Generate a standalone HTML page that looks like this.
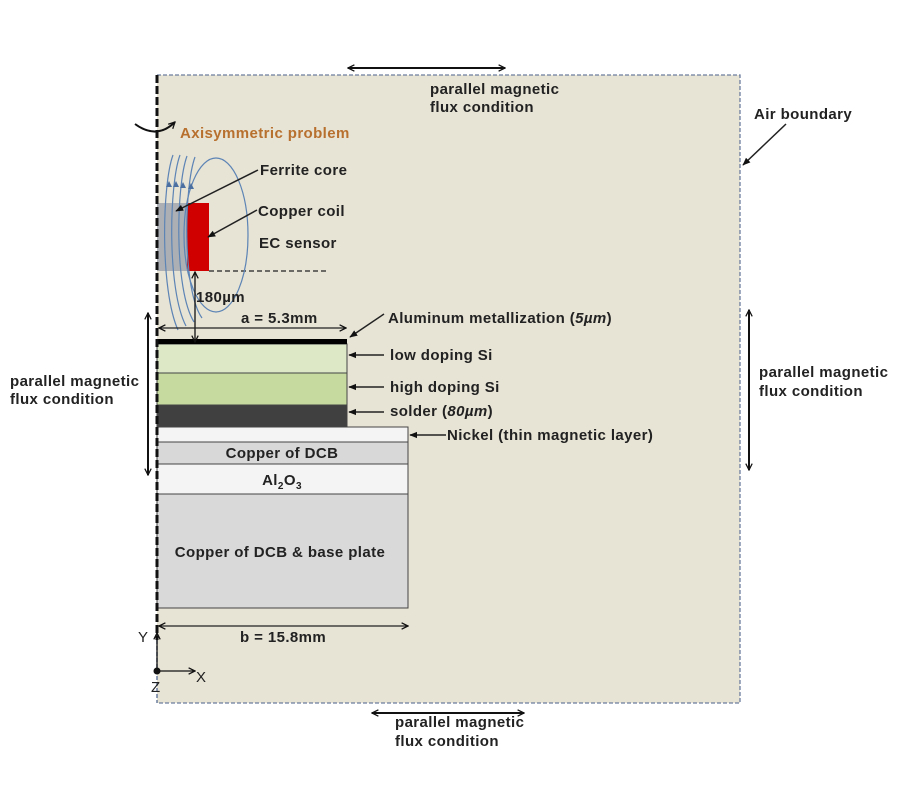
<!DOCTYPE html>
<html><head><meta charset="utf-8"><style>
html,body{margin:0;padding:0;background:#fff;}
svg{display:block;}
text{font-family:"Liberation Sans",Arial,sans-serif;font-weight:bold;font-size:15px;letter-spacing:0.4px;fill:#222;}
</style></head><body>
<svg width="900" height="800" viewBox="0 0 900 800" xmlns="http://www.w3.org/2000/svg">
<defs>
<marker id="ah" viewBox="0 0 10 10" refX="9" refY="5" markerWidth="8" markerHeight="8" orient="auto-start-reverse" markerUnits="userSpaceOnUse">
<path d="M1,1 L9,5 L1,9" fill="none" stroke="#111" stroke-width="1.6"/>
</marker>
<marker id="af" viewBox="0 0 10 10" refX="9" refY="5" markerWidth="8" markerHeight="8" orient="auto" markerUnits="userSpaceOnUse">
<path d="M0,1 L10,5 L0,9 z" fill="#111"/>
</marker>
</defs>
<!-- beige domain -->
<rect x="157" y="75" width="583" height="628" fill="#e7e3d5"/>
<path d="M157,75 H740 V703 H157" fill="none" stroke="#6c7d9e" stroke-width="1.3" stroke-dasharray="4,2"/>

<!-- sensor -->
<rect x="157" y="203" width="30" height="68" fill="#9ea3ad" fill-opacity="0.8"/>
<rect x="187" y="203" width="22" height="68" fill="#d00000"/>
<line x1="209" y1="271" x2="326" y2="271" stroke="#222" stroke-width="1.3" stroke-dasharray="5,3"/>

<!-- field lines -->
<g fill="none" stroke="#5c84b5" stroke-width="1.2">
<path d="M173,155 C162,185 160,290 178,330"/>
<path d="M180,155 C169,185 167,290 186,326"/>
<path d="M187,156 C176,186 174,290 194,322"/>
<path d="M195,157 C184,187 182,290 202,318"/>
<ellipse cx="216" cy="235" rx="32" ry="77"/>
</g>
<g fill="#4a6fa0">
<path d="M169,181 l-3,6 h6 z"/>
<path d="M176,181 l-3,6 h6 z"/>
<path d="M183,182 l-3,6 h6 z"/>
<path d="M191,183 l-3,6 h6 z"/>
</g>

<!-- layers -->
<g stroke="#444" stroke-width="1">
<rect x="157" y="427" width="251" height="15" fill="#f4f4f4"/>
<rect x="157" y="442" width="251" height="22" fill="#d8d8d8"/>
<rect x="157" y="464" width="251" height="30" fill="#f4f4f4"/>
<rect x="157" y="494" width="251" height="114" fill="#d9d9d9"/>
<rect x="157" y="344" width="190" height="29" fill="#dde8c6"/>
<rect x="157" y="373" width="190" height="32" fill="#c6da9f"/>
<rect x="157" y="405" width="190" height="22" fill="#404040"/>
</g>
<rect x="157" y="339" width="190" height="5" fill="#000"/>

<!-- axis -->
<line x1="157" y1="75" x2="157" y2="640" stroke="#111" stroke-width="3" stroke-dasharray="8,3"/>
<line x1="157" y1="640" x2="157" y2="703" stroke="#6c7d9e" stroke-width="1.5" stroke-dasharray="4,2"/>

<!-- axisymmetric arrow -->
<path d="M135,124 Q157,140 175,122" fill="none" stroke="#111" stroke-width="2" marker-end="url(#ah)"/>
<text x="180" y="138" style="fill:#b8702e">Axisymmetric problem</text>

<!-- labels sensor -->
<line x1="258" y1="170" x2="176" y2="211" stroke="#222" stroke-width="1.5" marker-end="url(#af)"/>
<text x="260" y="175">Ferrite core</text>
<line x1="257" y1="210" x2="208" y2="237" stroke="#222" stroke-width="1.5" marker-end="url(#af)"/>
<text x="258" y="216">Copper coil</text>
<text x="259" y="248">EC sensor</text>

<!-- 180um -->
<line x1="195" y1="272" x2="195" y2="342" stroke="#111" stroke-width="1.3" marker-start="url(#ah)" marker-end="url(#ah)"/>
<text x="196" y="302">180µm</text>

<!-- a = 5.3mm -->
<line x1="159" y1="328" x2="346" y2="328" stroke="#222" stroke-width="1.3" marker-start="url(#ah)" marker-end="url(#ah)"/>
<text x="241" y="323">a = 5.3mm</text>

<!-- right labels -->
<line x1="384" y1="314" x2="350" y2="337" stroke="#222" stroke-width="1.5" marker-end="url(#af)"/>
<text x="388" y="323">Aluminum metallization (<tspan font-style="italic">5µm</tspan>)</text>
<line x1="384" y1="355" x2="349" y2="355" stroke="#222" stroke-width="1.5" marker-end="url(#af)"/>
<text x="390" y="360">low doping Si</text>
<line x1="384" y1="387" x2="349" y2="387" stroke="#222" stroke-width="1.5" marker-end="url(#af)"/>
<text x="390" y="392">high doping Si</text>
<line x1="384" y1="412" x2="349" y2="412" stroke="#222" stroke-width="1.5" marker-end="url(#af)"/>
<text x="390" y="416">solder (<tspan font-style="italic">80µm</tspan>)</text>
<line x1="446" y1="435" x2="410" y2="435" stroke="#222" stroke-width="1.5" marker-end="url(#af)"/>
<text x="447" y="440">Nickel (thin magnetic layer)</text>

<!-- layer texts -->
<text x="282" y="458" text-anchor="middle">Copper of DCB</text>
<text x="282" y="485" text-anchor="middle">Al<tspan font-size="10" dy="4">2</tspan><tspan dy="-4">O</tspan><tspan font-size="10" dy="4">3</tspan></text>
<text x="280" y="557" text-anchor="middle">Copper of DCB &amp; base plate</text>

<!-- b = 15.8mm -->
<line x1="159" y1="626" x2="408" y2="626" stroke="#222" stroke-width="1.3" marker-start="url(#ah)" marker-end="url(#ah)"/>
<text x="240" y="642">b = 15.8mm</text>

<!-- coordinate -->
<line x1="157" y1="671" x2="157" y2="633" stroke="#111" stroke-width="1.3" marker-end="url(#ah)"/>
<line x1="157" y1="671" x2="195" y2="671" stroke="#111" stroke-width="1.3" marker-end="url(#ah)"/>
<circle cx="157" cy="671" r="3.5" fill="#111"/>
<text x="138" y="642" style="font-weight:normal">Y</text>
<text x="196" y="682" style="font-weight:normal">X</text>
<text x="151" y="692" style="font-weight:normal">Z</text>

<!-- boundary arrows -->
<line x1="348" y1="68" x2="505" y2="68" stroke="#111" stroke-width="2" marker-start="url(#ah)" marker-end="url(#ah)"/>
<text x="430" y="94">parallel magnetic</text>
<text x="430" y="112">flux condition</text>

<line x1="372" y1="713" x2="524" y2="713" stroke="#111" stroke-width="2" marker-start="url(#ah)" marker-end="url(#ah)"/>
<text x="395" y="727">parallel magnetic</text>
<text x="395" y="746">flux condition</text>

<line x1="148" y1="313" x2="148" y2="475" stroke="#111" stroke-width="2" marker-start="url(#ah)" marker-end="url(#ah)"/>
<text x="10" y="386">parallel magnetic</text>
<text x="10" y="404">flux condition</text>

<line x1="749" y1="310" x2="749" y2="470" stroke="#111" stroke-width="2" marker-start="url(#ah)" marker-end="url(#ah)"/>
<text x="759" y="377">parallel magnetic</text>
<text x="759" y="396">flux condition</text>

<!-- air boundary -->
<line x1="786" y1="124" x2="743" y2="165" stroke="#222" stroke-width="1.5" marker-end="url(#af)"/>
<text x="754" y="119">Air boundary</text>
</svg>
</body></html>
